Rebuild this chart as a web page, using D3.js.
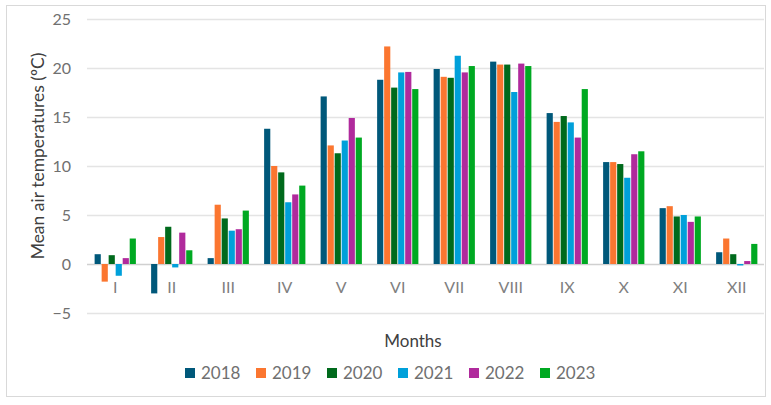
<!DOCTYPE html>
<html>
<head>
    <style>
        body { margin: 0; background: #fff; }
        text { font-family: Lato, "Open Sans", sans-serif; }
    </style>
    <script src="https://d3js.org/d3.v7.min.js"></script>
</head>
<body>
    <div id="chart"></div>

    <script>
        var months = ["I", "II", "III", "IV", "V", "VI", "VII", "VIII", "IX", "X", "XI", "XII"];
        var years = ["2018", "2019", "2020", "2021", "2022", "2023"];
        var colors = ["#00587a", "#fb7630", "#006a1c", "#00a0da", "#b02a9c", "#00a922"];
        var yTicks = [-5, 0, 5, 10, 15, 20, 25];

        var t2018 = [1.0, -3.0, 0.6, 13.8, 17.1, 18.8, 19.9, 20.65, 15.4, 10.4, 5.7, 1.2];
        var t2019 = [-1.8, 2.75, 6.05, 10.0, 12.1, 22.2, 19.1, 20.35, 14.5, 10.4, 5.9, 2.6];
        var t2020 = [0.9, 3.8, 4.65, 9.35, 11.3, 18.0, 19.0, 20.35, 15.1, 10.2, 4.85, 1.0];
        var t2021 = [-1.2, -0.35, 3.4, 6.3, 12.6, 19.55, 21.25, 17.55, 14.45, 8.8, 5.0, -0.15];
        var t2022 = [0.6, 3.2, 3.55, 7.1, 14.9, 19.6, 19.55, 20.45, 12.9, 11.2, 4.3, 0.3];
        var t2023 = [2.6, 1.4, 5.45, 8.0, 12.9, 17.85, 20.2, 20.2, 17.85, 11.5, 4.85, 2.05];
        var series = [t2018, t2019, t2020, t2021, t2022, t2023];

        var width = 771, height = 405;
        var plotLeft = 87, plotRight = 765, plotTop = 19, plotBottom = 313;

        var svg = d3.select("#chart")
                    .append("svg")
                    .attr("width", width)
                    .attr("height", height);

        // chart frame
        svg.append("rect")
            .attr("x", 6.5).attr("y", 5.5)
            .attr("width", 759).attr("height", 391)
            .attr("fill", "none")
            .attr("stroke", "#d9d9d9");

        var x0 = d3.scaleBand().domain(months).range([plotLeft, plotRight]).paddingInner(0.24).paddingOuter(0.12);
        var x1 = d3.scaleBand().domain(years).range([0, x0.bandwidth()]).padding(0.12);
        var y = d3.scaleLinear().domain([-5, 25]).range([plotBottom, plotTop]);

        // grid lines
        svg.append("g")
            .selectAll("line")
            .data(yTicks)
            .enter()
            .append("line")
            .attr("x1", plotLeft).attr("x2", plotRight - 1)
            .attr("y1", function(d) { return Math.round(y(d)) + 0.5; })
            .attr("y2", function(d) { return Math.round(y(d)) + 0.5; })
            .attr("stroke", function(d) { return d === 0 ? "#d0d0d0" : "#e4e4e4"; })
            .attr("stroke-width", 1.3);

        var yAxis = svg.append("g")
            .attr("transform", "translate(" + plotLeft + ",0)")
            .call(d3.axisLeft(y).tickValues(yTicks).tickSize(0).tickPadding(16));
        yAxis.select(".domain").remove();
        yAxis.selectAll("text")
            .attr("font-size", 16)
            .attr("fill", "#707070")
            .style("font-family", "Lato, sans-serif");

        var group = svg.selectAll(".month")
            .data(months)
            .enter()
            .append("g")
            .attr("class", "month")
            .attr("transform", function(d) { return "translate(" + x0(d) + ",0)"; });

        group.selectAll("rect")
            .data(function(d, i) {
                return years.map(function(yr, j) { return { year: yr, value: series[j][i], k: j }; });
            })
            .enter()
            .append("rect")
            .attr("x", function(d) { return x1(d.year); })
            .attr("width", x1.bandwidth())
            .attr("y", function(d) { return y(Math.max(0, d.value)); })
            .attr("height", function(d) { return Math.abs(y(d.value) - y(0)); })
            .attr("fill", function(d) { return colors[d.k]; });

        // month labels
        var xAxis = svg.append("g")
            .attr("transform", "translate(0," + y(0) + ")")
            .call(d3.axisBottom(x0).tickSize(0).tickPadding(18));
        xAxis.select(".domain").remove();
        xAxis.selectAll("text")
            .attr("font-size", 16)
            .attr("fill", "#808080")
            .style("font-family", "Lato, sans-serif");

        svg.append("text")
            .attr("x", 413).attr("y", 347)
            .attr("text-anchor", "middle")
            .attr("font-size", 17)
            .attr("fill", "#404040")
            .text("Months");

        svg.append("text")
            .attr("transform", "translate(44,156) rotate(-90)")
            .attr("text-anchor", "middle")
            .attr("font-size", 17.5)
            .attr("fill", "#404040")
            .text("Mean air temperatures (ºC)");

        var legend = svg.selectAll(".legend")
            .data(years)
            .enter()
            .append("g")
            .attr("class", "legend")
            .attr("transform", function(d, i) { return "translate(" + (185 + i * 71) + ",368)"; });

        legend.append("rect")
            .attr("width", 10).attr("height", 10)
            .attr("fill", function(d, i) { return colors[i]; });

        legend.append("text")
            .attr("x", 16).attr("y", 11)
            .attr("font-size", 17)
            .attr("fill", "#707070")
            .text(function(d) { return d; });
    </script>
</body>
</html>
